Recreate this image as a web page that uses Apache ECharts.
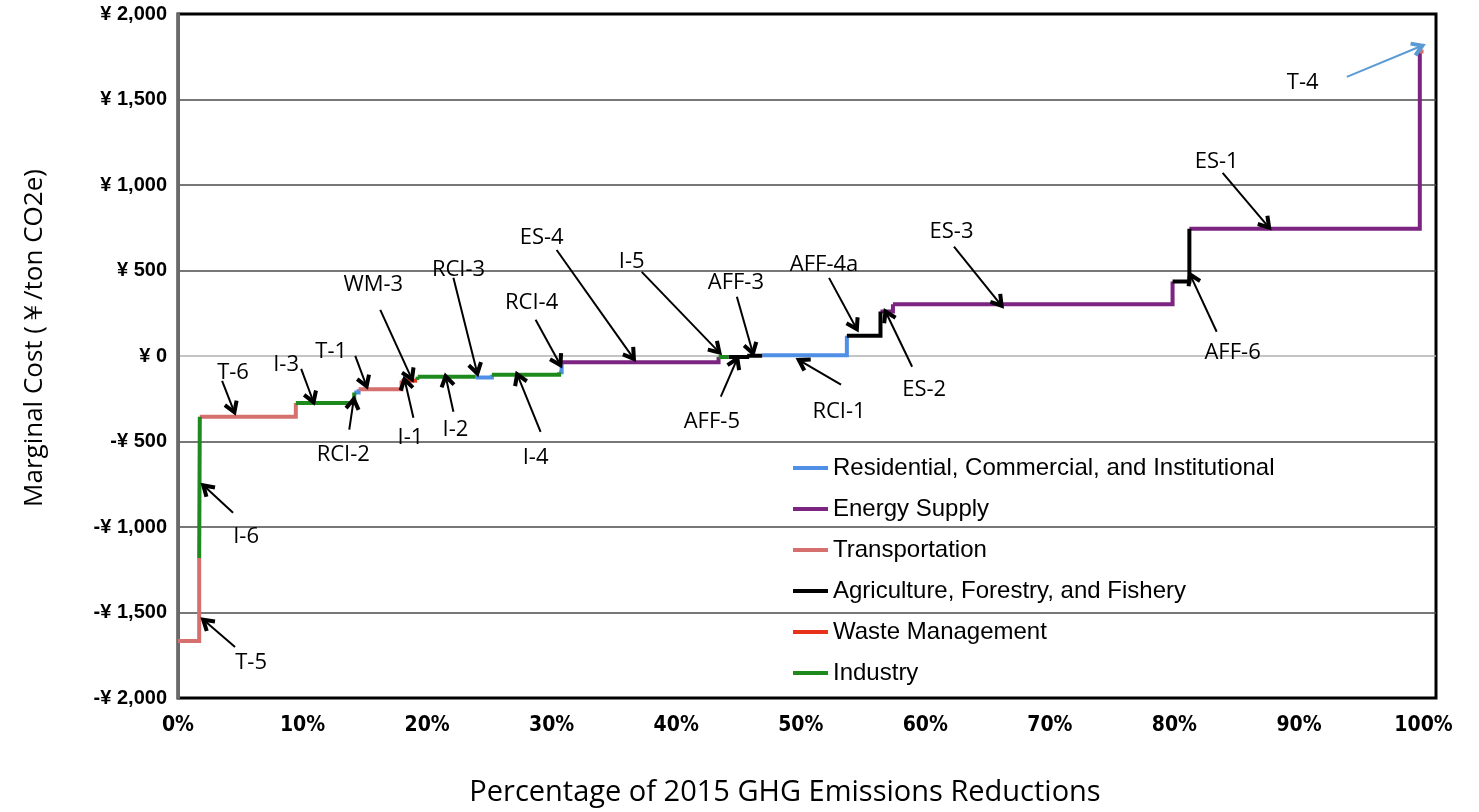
<!DOCTYPE html>
<html>
<head>
<meta charset="utf-8">
<title>Marginal abatement cost curve</title>
<script src="https://cdn.jsdelivr.net/npm/echarts@6/dist/echarts.min.js"></script>
<style>
  html, body { margin: 0; padding: 0; background: #fff; }
  #chart { width: 1479px; height: 812px; }
</style>
</head>
<body>
<div id="chart"></div>
<script>
// sectors, in legend order
const sectorNames = [
  'Residential, Commercial, and Institutional',
  'Energy Supply',
  'Transportation',
  'Agriculture, Forestry, and Fishery',
  'Waste Management',
  'Industry'
]
const sectorColors = ['#4f8fe6', '#7b2481', '#d5706e', '#000000', '#e8321c', '#1e8a1e']

// measures along the curve: sector index, cumulative end (% of 2015 GHG), cost (yen / t CO2e)
const stepNames   = ['T-5', 'I-6', 'T-6', 'I-3', 'RCI-2', 'T-1', 'WM-3', 'I-1', 'I-2', 'RCI-3', 'I-4', 'RCI-4',
                     'ES-4', 'I-5', 'AFF-5', 'AFF-3', 'RCI-1', 'AFF-4a', 'ES-2', 'ES-3', 'AFF-6', 'ES-1', 'T-4']
const stepSectors = [2, 5, 2, 5, 0, 2, 4, 5, 5, 0, 5, 0,
                     1, 5, 3, 3, 0, 3, 1, 1, 3, 1, 2]
const stepEnds    = [1.7, 1.75, 9.46, 14.15, 14.5, 17.95, 19.2, 19.25, 23.9, 25.2, 30.6, 30.8,
                     43.4, 44.2, 45.7, 46.9, 53.7, 56.4, 57.4, 79.85, 81.2, 99.7, 100]
const stepCosts   = [-1667, -1181, -355, -275, -213, -194, -144, -140, -122, -125, -110, -95,
                     -36, -6, -6, 2, 5, 118, 260, 302, 436, 744, 1781]

// tick labels
const xTicks = [0, 10, 20, 30, 40, 50, 60, 70, 80, 90, 100]

// call-out labels and their arrows (data units)
const annoNames = ['T-6', 'I-3', 'T-1', 'WM-3', 'RCI-2', 'I-1', 'I-2', 'RCI-3', 'RCI-4', 'I-4', 'ES-4', 'I-5',
                   'AFF-3', 'AFF-5', 'AFF-4a', 'RCI-1', 'ES-2', 'ES-3', 'ES-1', 'AFF-6', 'T-4', 'I-6', 'T-5']
const annoText = [[4.42, -98], [8.68, -51], [12.3, 25], [15.68, 416], [13.27, -578], [18.66, -478], [22.27, -431],
                  [22.52, 504], [28.39, 311], [28.71, -595], [29.2, 690], [36.43, 550], [44.79, 428], [42.86, -385],
                  [51.87, 533], [53.07, -326], [59.91, -197], [62.1, 725], [83.39, 1136], [84.67, 19], [90.3, 1597],
                  [5.47, -1057], [5.87, -1795]]
const arrowTail = [[3.54, -145], [9.89, -75], [14.23, 1], [16.24, 270], [13.75, -431], [18.9, -361], [22.11, -326],
                   [22.11, 457], [28.71, 212], [29.11, -443], [30.4, 620], [37.23, 492], [44.87, 346], [43.58, -238],
                   [52.27, 457], [53.23, -168], [58.94, -63], [62.3, 640], [83.87, 1071], [83.39, 142], [93.84, 1632],
                   [4.42, -917], [4.58, -1702]]
const arrowHead = [[4.42, -309], [10.78, -250], [15.04, -157], [18.66, -116], [14.07, -273], [18.25, -157], [21.55, -139],
                   [23.96, -81], [30.56, -34], [27.34, -127], [36.43, 1], [43.26, 36], [46.08, 36], [44.79, -34],
                   [54.36, 176], [50.1, -34], [56.93, 241], [65.94, 311], [87.41, 767], [81.38, 457], [99.63, 1807],
                   [2.25, -771], [2.25, -1556]]

// open V arrow head, tip at top
const chevron = 'path://M5,0 L10,8.2 L7.9,9.6 L5,4.9 L2.1,9.6 L0,8.2 Z'

const chart = echarts.init(document.getElementById('chart'), null, { renderer: 'canvas' })

const sectorSeries = sectorNames.map((name, s) => {
  const pts = []
  stepNames.forEach((n, i) => {
    if (stepSectors[i] !== s) return
    const x0 = i === 0 ? 0 : stepEnds[i - 1]
    const x1 = stepEnds[i]
    pts.push([x0, stepCosts[i]], [x1, stepCosts[i]])
    if (i < stepNames.length - 1) pts.push([x1, stepCosts[i + 1]])
    pts.push([x1, '-'])
  })
  return {
    name: name,
    type: 'line',
    data: pts,
    showSymbol: false,
    connectNulls: false,
    lineStyle: { color: sectorColors[s], width: 4, cap: 'butt', join: 'miter' },
    itemStyle: { color: sectorColors[s] },
    z: 3
  }
})

const arrowData = annoNames.map((n, i) => {
  const item = [{ coord: arrowTail[i] }, { coord: arrowHead[i] }]
  if (n === 'T-4') {
    item[0].lineStyle = { color: '#5b9bd5', width: 2 }
    item[1].lineStyle = { color: '#5b9bd5', width: 2 }
  }
  return item
})

const option = {
  animation: false,
  grid: {
    left: 178, right: 43, top: 14, bottom: 114,
    show: true, borderColor: '#000', borderWidth: 3
  },
  legend: {
    data: sectorNames,
    orient: 'vertical',
    left: 788,
    top: 449,
    icon: 'rect',
    itemWidth: 35,
    itemHeight: 4,
    itemGap: 13,
    textStyle: { fontFamily: 'Liberation Sans, Arial, sans-serif', fontSize: 24, color: '#000', lineHeight: 28 }
  },
  xAxis: {
    type: 'value',
    min: 0,
    max: 101,
    interval: 10,
    name: 'Percentage of 2015 GHG Emissions Reductions',
    nameLocation: 'middle',
    nameGap: 80,
    nameTextStyle: { fontFamily: 'Open Sans, sans-serif', fontSize: 29, color: '#000', padding: [0, 44, 0, 0] },
    axisLine: { show: false },
    axisTick: { show: false },
    splitLine: { show: false },
    axisLabel: {
      margin: 17,
      color: '#000',
      fontWeight: 'bold',
      fontSize: 21,
      fontFamily: 'Liberation Sans Narrow, DejaVu Sans Condensed, Roboto, sans-serif',
      formatter: v => xTicks.indexOf(v) >= 0 ? v + '%' : ''
    }
  },
  yAxis: {
    type: 'value',
    min: -2000,
    max: 2000,
    interval: 500,
    name: 'Marginal Cost (\uFFE5/ton CO2e)',
    nameLocation: 'middle',
    nameGap: 130,
    nameTextStyle: { fontFamily: 'Open Sans, sans-serif', fontSize: 26, color: '#000', padding: [0, 0, 0, 36] },
    axisLine: { show: true, lineStyle: { color: '#6a6a6a', width: 3 } },
    axisTick: { show: false },
    splitLine: {
      lineStyle: {
        color: ['#000', '#4a4a4a', '#4a4a4a', '#4a4a4a', '#b0b0b0', '#4a4a4a', '#4a4a4a', '#4a4a4a', '#000'],
        width: 1.5
      }
    },
    axisLabel: {
      margin: 11,
      color: '#000',
      fontWeight: 'bold',
      fontSize: 20,
      fontFamily: 'Liberation Sans, Arial, sans-serif',
      formatter: v => (v < 0 ? '-' : '') + '\u00A5 ' + Math.abs(v).toLocaleString('en-US')
    }
  },
  series: sectorSeries.concat([
    {
      name: 'arrows',
      type: 'line',
      data: [],
      z: 5,
      markLine: {
        silent: true,
        animation: false,
        symbol: ['none', chevron],
        symbolSize: [16, 15],
        lineStyle: { color: '#000', width: 2, type: 'solid' },
        label: { show: false },
        emphasis: { disabled: true },
        data: arrowData
      }
    },
    {
      name: 'labels',
      type: 'scatter',
      symbolSize: 0,
      silent: true,
      z: 6,
      data: annoNames.map((n, i) => ({ name: n, value: annoText[i] })),
      label: {
        show: true,
        position: 'inside',
        formatter: '{b}',
        fontFamily: 'Open Sans, sans-serif',
        fontSize: 22,
        color: '#000',
        opacity: 1
      }
    }
  ])
}

chart.setOption(option)
window.addEventListener('resize', () => chart.resize())
</script>
</body>
</html>
